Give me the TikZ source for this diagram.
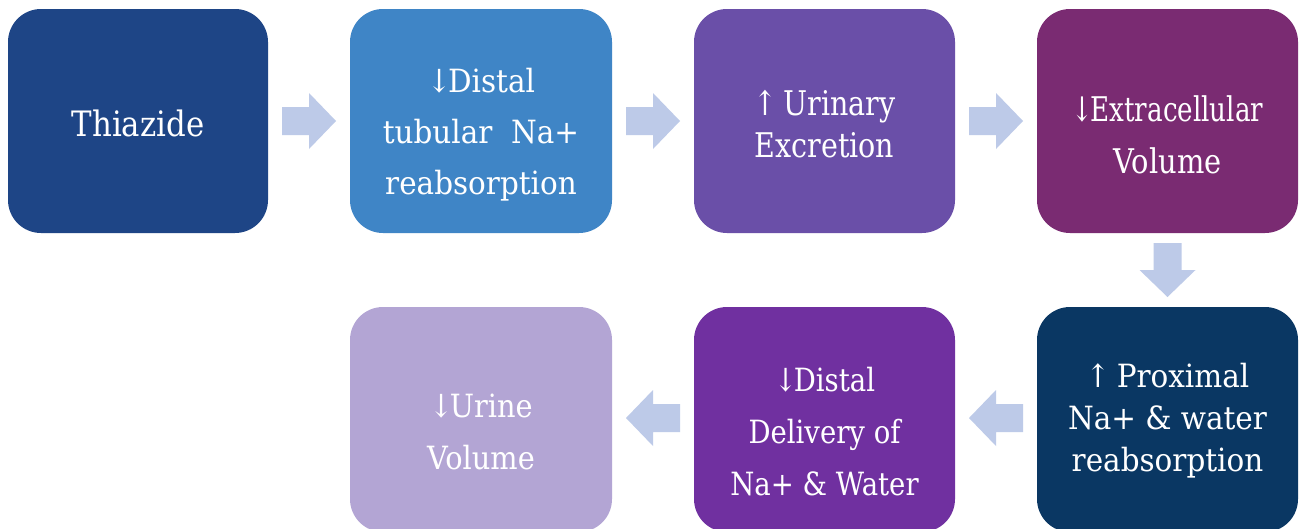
\documentclass[tikz,border=0pt]{standalone}
\usepackage{fontspec}
\setmainfont{DejaVu Serif}
\usepackage{graphicx}
\usetikzlibrary{calc}
\definecolor{cA}{HTML}{1E4586}
\definecolor{cB}{HTML}{3F85C6}
\definecolor{cC}{HTML}{6A4FA8}
\definecolor{cD}{HTML}{7A2B72}
\definecolor{cE}{HTML}{0A3763}
\definecolor{cF}{HTML}{7030A0}
\definecolor{cG}{HTML}{B3A5D4}
\definecolor{arrowc}{HTML}{BDCAE8}
\newcommand\sx[2]{\scalebox{#1}[1]{#2}}
\newcommand\dn{↓\kern-0.12em}
\newcommand\up{↑\kern-0.1em}
\tikzset{
  box/.style={rounded corners=33pt, inner sep=0pt, draw=none},
  txt/.style={text=white, align=center, inner sep=0pt},
  blockarrow/.pic={\fill[arrowc] (-27,-14) -- (0,-14) -- (0,-28) -- (27,0) -- (0,28) -- (0,14) -- (-27,14) -- cycle;}
}
\begin{document}
\begin{tikzpicture}[x=1pt,y=-1pt]
\useasboundingbox (0,0) rectangle (1306,528);
\fill[white] (0,0) rectangle (1306,528);
\begin{scope}
\clip (0,0) rectangle (1306,528);
% boxes
\node[box, fill=cA, minimum width=260pt, minimum height=224pt] (b1) at (138,121) {};
\node[box, fill=cB, minimum width=262pt, minimum height=224pt] (b2) at (481,121) {};
\node[box, fill=cC, minimum width=261pt, minimum height=224pt] (b3) at (824.5,121) {};
\node[box, fill=cD, minimum width=261pt, minimum height=224pt] (b4) at (1167.5,121) {};
\node[box, fill=cE, minimum width=261pt, minimum height=225pt] (b5) at (1167.5,419.5) {};
\node[box, fill=cF, minimum width=261pt, minimum height=225pt] (b6) at (824.5,419.5) {};
\node[box, fill=cG, minimum width=262pt, minimum height=225pt] (b7) at (481,419.5) {};
\end{scope}
% texts
\node[txt, font=\fontsize{35}{50}\selectfont] (t1) at (138,123) {\sx{0.88}{Thiazide}};
\node[txt, font=\fontsize{32}{51}\selectfont] (t2) at (481,135) {\sx{0.92}{\dn Distal}\\\sx{0.92}{tubular\ \ Na+}\\\sx{0.92}{reabsorption}};
\node[txt, font=\fontsize{34}{42}\selectfont] (t3) at (824.5,124) {\sx{0.84}{\up\ Urinary}\\\sx{0.84}{Excretion}};
\node[txt, font=\fontsize{34}{52}\selectfont] (t4) at (1167.5,135) {\sx{0.77}{\dn Extracellular}\\\sx{0.85}{Volume}};
\node[txt, font=\fontsize{32}{42}\selectfont] (t5) at (1167.5,421) {\sx{0.92}{\up\ Proximal}\\\sx{0.92}{Na+ \& water}\\\sx{0.92}{reabsorption}};
\node[txt, font=\fontsize{32}{52}\selectfont] (t6) at (824.5,432) {\sx{0.86}{\dn Distal}\\\sx{0.86}{Delivery of}\\\sx{0.86}{Na+ \& Water}};
\node[txt, font=\fontsize{32}{52}\selectfont] (t7) at (481,432) {\sx{0.9}{\dn Urine}\\\sx{0.9}{Volume}};
% block arrows
\coordinate (a1) at ($(b1.east)!0.5!(b2.west)$);
\coordinate (a2) at ($(b2.east)!0.5!(b3.west)$);
\coordinate (a3) at ($(b3.east)!0.5!(b4.west)$);
\coordinate (a4) at ($(b4.south)!0.5!(b5.north)$);
\coordinate (a5) at ($(b5.west)!0.5!(b6.east)+(0,-1.5)$);
\coordinate (a6) at ($(b6.west)!0.5!(b7.east)+(0,-1.5)$);
\pic at (a1) {blockarrow};
\pic at (a2) {blockarrow};
\pic at (a3) {blockarrow};
\pic[rotate=-90] at (a4) {blockarrow};
\pic[rotate=180] at (a5) {blockarrow};
\pic[rotate=180] at (a6) {blockarrow};
\end{tikzpicture}
\end{document}
